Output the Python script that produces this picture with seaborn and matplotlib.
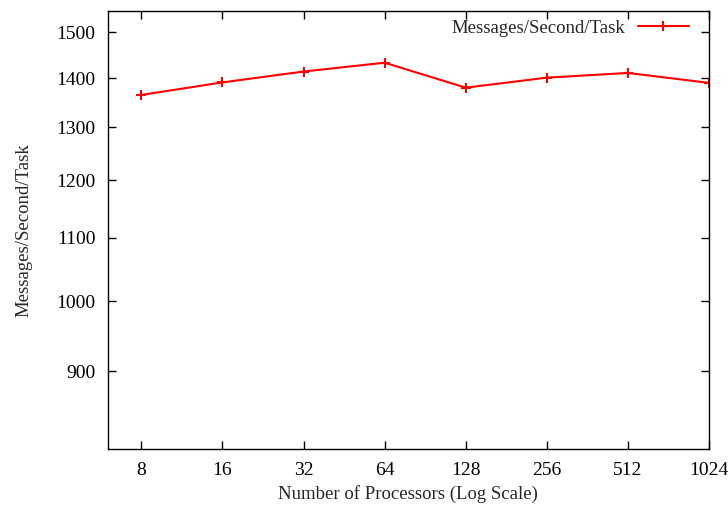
import numpy as np
import pandas as pd
import matplotlib
matplotlib.use("Agg")
import matplotlib.pyplot as plt
import matplotlib.ticker as mticker
import seaborn as sns

# ── Data ────────────────────────────────────────────────────────────────
processors = [8, 16, 32, 64, 128, 256, 512, 1024]
msgs_per_sec = [1365, 1391, 1414, 1433, 1380, 1401, 1411, 1390]
y_ticks = [900, 1000, 1100, 1200, 1300, 1400, 1500]

df = pd.DataFrame({"procs": processors, "rate": msgs_per_sec})

sns.set_theme(style="white")
plt.rcParams["font.family"] = ["Liberation Serif", "DejaVu Serif"]

fig, ax = plt.subplots(figsize=(7.28, 5.08), dpi=100)
sns.lineplot(data=df, x="procs", y="rate", ax=ax, color="red", linewidth=1.5,
             marker="+", markersize=7, markeredgewidth=1.5,
             markeredgecolor="red", label="Messages/Second/Task")

ax.set_xscale("log", base=2)
ax.set_yscale("log")
ax.set_xlim(6, 1024)
ax.set_ylim(800, 1550)

ax.xaxis.set_major_locator(mticker.FixedLocator(processors))
ax.xaxis.set_major_formatter(mticker.FixedFormatter([str(p) for p in processors]))
ax.xaxis.set_minor_locator(mticker.NullLocator())
ax.yaxis.set_major_locator(mticker.FixedLocator(y_ticks))
ax.yaxis.set_major_formatter(mticker.FixedFormatter([str(v) for v in y_ticks]))
ax.yaxis.set_minor_locator(mticker.NullLocator())

ax.tick_params(axis="both", which="major", direction="in", length=6, width=1,
               top=True, right=True, bottom=True, left=True,
               labelsize=14, colors="black", pad=9)
for s in ax.spines.values():
    s.set_color("black")
    s.set_linewidth(1)

ax.set_xlabel("Number of Processors (Log Scale)", fontsize=13.5, labelpad=5)
ax.set_ylabel("Messages/Second/Task", fontsize=13.5, labelpad=17)

leg = ax.legend(loc="upper right", bbox_to_anchor=(0.985, 1.005),
                frameon=False, fontsize=13.5, markerfirst=False,
                handlelength=2.7, handletextpad=0.7, borderaxespad=0.2)

fig.subplots_adjust(left=0.148, right=0.974, top=0.979, bottom=0.116)
fig.savefig("out.png", dpi=100)
